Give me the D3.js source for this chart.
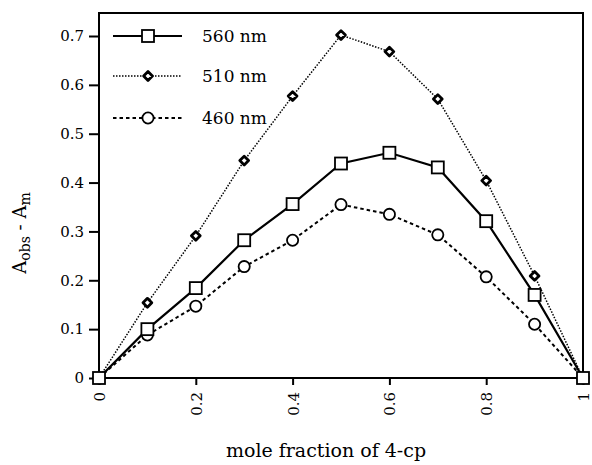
<!DOCTYPE html>
<html>
<head>
<meta charset="utf-8">
<script src="https://cdn.jsdelivr.net/npm/d3@7"></script>
<style>
  html, body { margin: 0; padding: 0; background: #fff; }
  svg { display: block; }
</style>
</head>
<body>
<svg id="chart" width="592" height="465"></svg>
<script>
// Mole fraction of 4-cp (x values)
const moleFraction = [0, 0.1, 0.2, 0.3, 0.4, 0.5, 0.6, 0.7, 0.8, 0.9, 1];
// Absorbance difference at each wavelength
const abs560 = [0, 0.100, 0.184, 0.282, 0.356, 0.439, 0.461, 0.431, 0.321, 0.170, 0];
const abs510 = [0, 0.154, 0.291, 0.445, 0.577, 0.702, 0.668, 0.571, 0.404, 0.209, 0];
const abs460 = [0, 0.088, 0.147, 0.228, 0.282, 0.355, 0.335, 0.293, 0.207, 0.110, 0];
const seriesNames = ["560 nm", "510 nm", "460 nm"];
const xTicks = [0, 0.2, 0.4, 0.6, 0.8, 1];
const yTicks = [0, 0.1, 0.2, 0.3, 0.4, 0.5, 0.6, 0.7];

const FONT = "'DejaVu Serif', 'Liberation Serif', serif";
const svg = d3.select("#chart").attr("font-family", FONT);
const plotLeft = 99, plotRight = 583, plotTop = 13, plotBottom = 378;

const x = d3.scaleLinear().domain([0, 1]).range([plotLeft, plotRight]);
const y = d3.scaleLinear().domain([0, 0.7]).range([plotBottom, 36]);

// Frame
svg.append("rect")
  .attr("x", plotLeft).attr("y", plotTop)
  .attr("width", plotRight - plotLeft).attr("height", plotBottom - plotTop)
  .attr("fill", "none").attr("stroke", "#000").attr("stroke-width", 2);

// Y axis
const yAxis = svg.append("g")
  .attr("transform", `translate(${plotLeft},0)`)
  .call(d3.axisLeft(y).tickValues(yTicks).tickSize(10).tickPadding(5)
    .tickFormat(d => d === 0 ? "0" : d3.format(".1f")(d)))
  .attr("font-family", FONT).attr("font-size", 15);
yAxis.select(".domain").remove();
yAxis.selectAll(".tick line").attr("stroke-width", 2);

// X axis with vertical tick labels
const xAxis = svg.append("g")
  .attr("transform", `translate(0,${plotBottom})`)
  .call(d3.axisBottom(x).tickValues(xTicks).tickSize(7)
    .tickFormat(d => (d === 0 || d === 1) ? String(d) : d3.format(".1f")(d)))
  .attr("font-family", FONT).attr("font-size", 15);
xAxis.select(".domain").remove();
xAxis.selectAll(".tick line").attr("stroke-width", 2);
xAxis.selectAll(".tick text")
  .attr("transform", "rotate(-90)")
  .attr("x", -14).attr("y", 0).attr("dy", "0.36em")
  .attr("text-anchor", "end");

// Axis titles
svg.append("text")
  .attr("x", 326).attr("y", 457)
  .attr("text-anchor", "middle")
  .attr("font-size", 19)
  .text("mole fraction of 4-cp");

const yTitle = svg.append("text")
  .attr("transform", "translate(26,233) rotate(-90)")
  .attr("text-anchor", "middle")
  .attr("font-size", 18);
yTitle.append("tspan").text("A");
yTitle.append("tspan").attr("dy", 4).attr("font-size", 14).text("obs");
yTitle.append("tspan").attr("dy", -4).text(" - A");
yTitle.append("tspan").attr("dy", 4).attr("font-size", 14).text("m");

// Series definitions
const series = [
  { name: seriesNames[0], values: abs560, dash: null, width: 2.2, marker: "square" },
  { name: seriesNames[1], values: abs510, dash: "1.5,1.5", width: 1.5, marker: "diamond" },
  { name: seriesNames[2], values: abs460, dash: "3.5,3", width: 2, marker: "circle" }
];

const line = d3.line().x((d, i) => x(moleFraction[i])).y(d => y(d));

function drawMarker(g, type, cx, cy) {
  if (type === "square") {
    g.append("rect").attr("x", cx - 6).attr("y", cy - 6)
      .attr("width", 12).attr("height", 12)
      .attr("fill", "#fff").attr("stroke", "#000").attr("stroke-width", 1.8);
  } else if (type === "diamond") {
    const s = 4.4;
    g.append("path")
      .attr("d", `M${cx},${cy - s}L${cx + s},${cy}L${cx},${cy + s}L${cx - s},${cy}Z`)
      .attr("fill", "#fff").attr("stroke", "#000").attr("stroke-width", 2.8)
      .attr("stroke-linejoin", "round");
  } else {
    g.append("circle").attr("cx", cx).attr("cy", cy).attr("r", 5.6)
      .attr("fill", "#fff").attr("stroke", "#000").attr("stroke-width", 1.8);
  }
}

series.forEach(s => {
  svg.append("path").datum(s.values)
    .attr("d", line)
    .attr("fill", "none").attr("stroke", "#000")
    .attr("stroke-width", s.width)
    .attr("stroke-dasharray", s.dash);
});
// markers drawn in order so the square series sits on top
[series[2], series[1], series[0]].forEach(s => {
  const g = svg.append("g");
  s.values.forEach((v, i) => drawMarker(g, s.marker, x(moleFraction[i]), y(v)));
});

// Legend
const legendY = [36, 76, 118];
series.forEach((s, i) => {
  const g = svg.append("g");
  g.append("line").attr("x1", 113).attr("x2", 182)
    .attr("y1", legendY[i]).attr("y2", legendY[i])
    .attr("stroke", "#000").attr("stroke-width", s.width)
    .attr("stroke-dasharray", s.dash);
  drawMarker(g, s.marker, 148, legendY[i]);
  g.append("text").attr("x", 202).attr("y", legendY[i]).attr("dy", "0.35em")
    .attr("font-size", 17).text(s.name);
});
</script>
</body>
</html>
